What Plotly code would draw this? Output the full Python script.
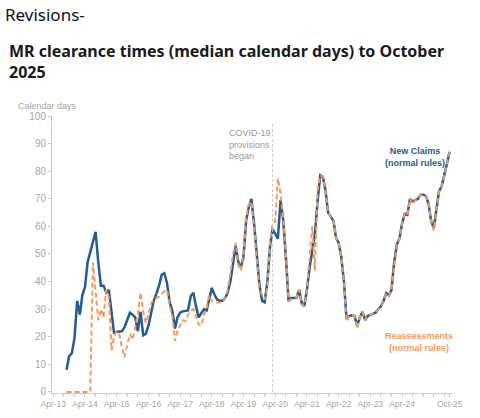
import pandas as pd
import plotly.graph_objects as go

start_month = "2013-09-01"
end_month = "2025-10-01"
months = pd.date_range(start_month, end_month, freq="MS")

new_claims = [
    8, 13, 14, 19.5, 33, 28, 35, 38, 47, 51,
    54, 58, 47, 38.5, 38.5, 36, 37, 28, 21.5, 21.8,
    21.8, 22, 23.5, 26, 28.7, 28, 27, 22, 29, 20.5,
    21, 24, 29, 33, 35.5, 38.5, 42.5, 43, 39.5, 32.5,
    29.5, 23, 27, 28.7, 29.2, 29.3, 29.5, 34.7, 35.9, 31,
    27, 28.5, 30, 29.5, 33.5, 37.7, 35.3, 33.5, 33, 33,
    34, 36, 40, 47, 53, 47, 45, 49, 62, 67,
    70, 61, 50, 39, 33, 32.5, 40, 53, 59, 57,
    55.5, 69.5, 62.5, 49, 33, 34, 34, 34, 37, 32,
    31, 37, 45, 51, 57, 69, 78.5, 78, 73, 65,
    63.5, 62, 56, 54, 49, 40, 26.5, 27.5, 27.8, 27.5,
    24, 27, 29, 26, 27.5, 28, 28.5, 28.7, 30, 31,
    33, 35.8, 35, 37, 47, 53.5, 55.5, 61, 64.5, 64.2,
    70, 69, 69.5, 70, 71.5, 71.5, 71, 68, 62, 59.5,
    66, 72.8, 74.5, 78.5, 83.5, 87,
]

reassessments = [
    0, 0, 0, 0, 0, 0, 0, 0, 0, 0,
    47, 37, 26, 30, 27, 37, 34.5, 15, 20, 22,
    21, 16, 12.5, 17, 21, 19, 23, 28, 36, 29,
    25, 28, 32, 33.5, 34, 34.5, 35.5, 36.5, 37, 31,
    27.5, 18.5, 22, 23.8, 26, 25.6, 28, 29.5, 30, 27.5,
    24.5, 24, 28, 30.5, 35, 33, 32.5, 32.3, 32.3, 32.5,
    34, 37, 43, 50, 54, 46, 44, 50, 63, 68,
    69, 60, 48, 38, 35, 33.5, 38, 55, 61, 61.7,
    77.5, 72, 63, 50, 33, 33.5, 34, 34, 37, 32,
    31, 37, 50, 60, 44, 73, 78.5, 78, 73, 65,
    63.5, 62, 56, 54, 49, 40, 25.5, 27.5, 27.8, 27.5,
    23, 27, 29, 26, 27.5, 28, 28.5, 28.7, 30, 31,
    33, 35.8, 35, 36.5, 46, 53.5, 55.5, 61, 64.5, 64,
    70, 68, 69.5, 70, 71.5, 71.5, 71, 68, 62, 58.5,
    66, 72.8, 74.5, 78.5, 83.5, 87,
]

tick_dates = ["2013-04-01", "2014-04-01", "2015-04-01", "2016-04-01", "2017-04-01",
              "2018-04-01", "2019-04-01", "2020-04-01", "2021-04-01", "2022-04-01",
              "2023-04-01", "2024-04-01", "2025-10-01"]
tick_labels = ["Apr-13", "Apr-14", "Apr-15", "Apr-16", "Apr-17", "Apr-18", "Apr-19",
               "Apr-20", "Apr-21", "Apr-22", "Apr-23", "Apr-24", "Oct-25"]
y_ticks = [0, 10, 20, 30, 40, 50, 60, 70, 80, 90, 100]
covid_date = "2020-03-01"

BLUE = "#245b91"
ORANGE = "#f59a5c"
GREY = "#a6a6a6"
AXIS = "#c8c8c8"
CHART_FONT = "Liberation Sans, Arial, sans-serif"
TITLE_FONT = "Noto Sans, Open Sans, sans-serif"

W, H = 480, 418
L, R, T, B = 52, 28, 116, 25
pw, ph = W - L - R, H - T - B


def px(x):
    return (x - L) / pw


def py(y):
    return (H - B - y) / ph


fig = go.Figure()
fig.add_trace(go.Scatter(x=months, y=new_claims, mode="lines",
                         line=dict(color=BLUE, width=2.5), name="New Claims"))
fig.add_trace(go.Scatter(x=months, y=reassessments, mode="lines",
                         line=dict(color=ORANGE, width=2, dash="5px,3px"),
                         name="Reassessments"))

fig.add_shape(type="line", x0=covid_date, x1=covid_date, y0=0, y1=97,
              xref="x", yref="y", line=dict(color="#c8c8c8", width=1, dash="3px,2px"))

fig.add_annotation(x="2018-09-20", y=96.5, xref="x", yref="y", xanchor="left", yanchor="top",
                   text="COVID-19<br>provisions<br>began", showarrow=False, align="left",
                   font=dict(family=CHART_FONT, size=9, color="#9a9a9a"))
fig.add_annotation(x="2024-09-01", y=85, xref="x", yref="y", xanchor="center", yanchor="middle",
                   text="<b>New Claims<br>(normal rules)</b>", showarrow=False, align="center",
                   font=dict(family=CHART_FONT, size=9, color=BLUE))
fig.add_annotation(x="2024-10-15", y=18, xref="x", yref="y", xanchor="center", yanchor="middle",
                   text="<b>Reassessments<br>(normal rules)</b>", showarrow=False, align="center",
                   font=dict(family=CHART_FONT, size=9, color=ORANGE))

fig.add_annotation(x=px(3), y=py(15), xref="paper", yref="paper", xanchor="left", yanchor="middle",
                   text="Revisions-", showarrow=False,
                   font=dict(family=TITLE_FONT, size=17, color="#111111"))
fig.add_annotation(x=px(7), y=py(62), xref="paper", yref="paper", xanchor="left", yanchor="middle",
                   text="<b>MR clearance times (median calendar days) to October<br>2025</b>",
                   showarrow=False, align="left",
                   font=dict(family=TITLE_FONT, size=16, color="#1a1a1a"))
fig.add_annotation(x=px(16), y=py(106), xref="paper", yref="paper", xanchor="left", yanchor="middle",
                   text="Calendar days", showarrow=False,
                   font=dict(family=CHART_FONT, size=9, color=GREY))

fig.update_layout(
    width=W, height=H,
    margin=dict(l=L, r=R, t=T, b=B, autoexpand=False),
    paper_bgcolor="white", plot_bgcolor="white",
    showlegend=False,
    xaxis=dict(
        type="date", range=["2013-03-17", "2025-10-28"],
        tickvals=tick_dates, ticktext=tick_labels, tickangle=0,
        tickfont=dict(family=CHART_FONT, size=8.5, color=GREY),
        showgrid=False, zeroline=False, automargin=False,
        showline=True, linecolor=AXIS, linewidth=1,
        ticks="outside", ticklen=3, tickcolor=AXIS,
        minor=dict(ticks="outside", ticklen=3, tickcolor=AXIS, dtick="M4",
                   tick0="2013-04-01", showgrid=False),
    ),
    yaxis=dict(
        range=[-0.4, 100], tickvals=y_ticks,
        tickfont=dict(family=CHART_FONT, size=10, color=GREY),
        showgrid=False, zeroline=False, automargin=False,
        showline=True, linecolor=AXIS, linewidth=1,
        ticks="outside", ticklen=3, tickcolor=AXIS,
    ),
)

fig.write_html("out.html")
